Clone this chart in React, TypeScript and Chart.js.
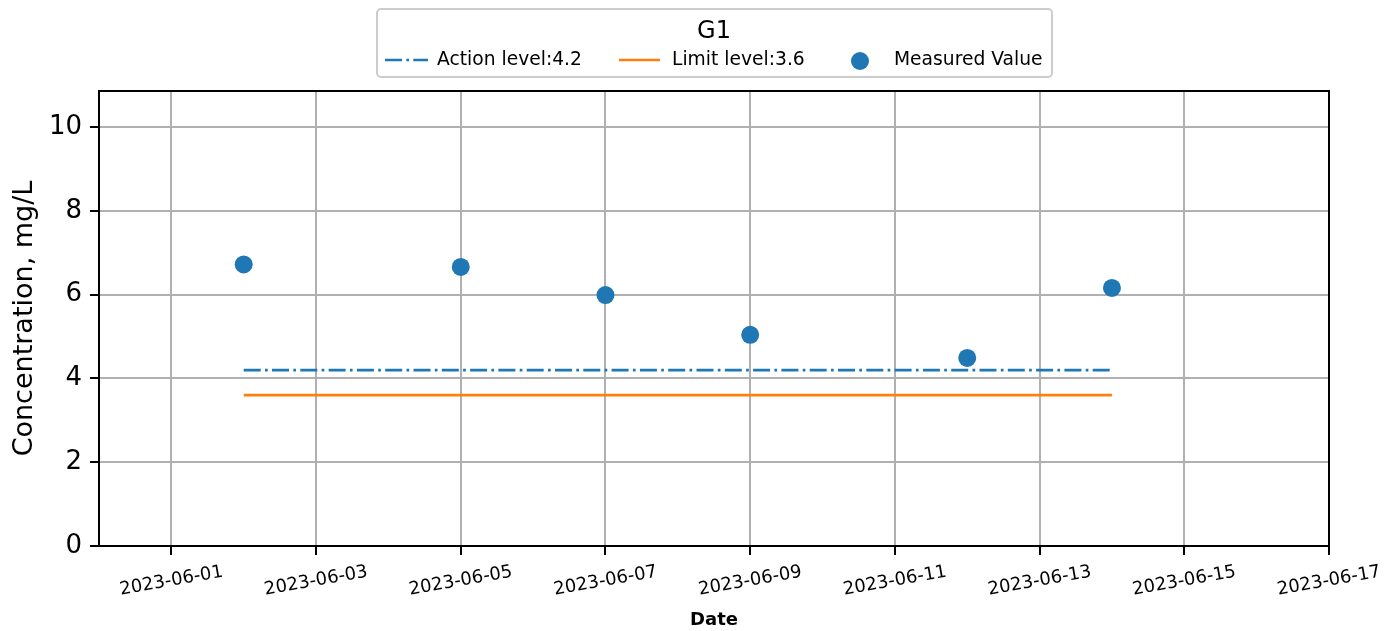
import React, { useEffect, useRef } from "react";
import { Chart, registerables } from "chart.js";

Chart.register(...registerables);

const chartTitle = "G1";
const measuredDates = ["2023-06-02", "2023-06-05", "2023-06-07", "2023-06-09", "2023-06-12", "2023-06-14"];
const measuredValues = [6.72, 6.66, 5.99, 5.04, 4.49, 6.16];
const actionLevel = 4.2;
const limitLevel = 3.6;
const levelStart = "2023-06-02";
const levelEnd = "2023-06-14";
const xTickLabels = [
  "2023-06-01", "2023-06-03", "2023-06-05", "2023-06-07", "2023-06-09",
  "2023-06-11", "2023-06-13", "2023-06-15", "2023-06-17",
];
const xMinDate = "2023-05-31";
const xMaxDate = "2023-06-17";
const yTicks = [0, 2, 4, 6, 8, 10];
const yMax = 10.86;
const seriesNames = ["Action level:4.2", "Limit level:3.6", "Measured Value"];

const BLUE = "#1f77b4";
const ORANGE = "#ff7f0e";
const FONT = "'DejaVu Sans', sans-serif";
const DASH = [17, 4.3, 2.7, 4.3];

const toDay = (s: string) => {
  const [y, m, d] = s.split("-").map(Number);
  return Date.UTC(y, m - 1, d) / 86400000;
};

export default function App() {
  const ref = useRef<HTMLCanvasElement | null>(null);

  useEffect(() => {
    if (!ref.current) return;

    const overlay = {
      id: "overlay",
      afterDraw(chart: any) {
        const ctx = chart.ctx;
        const area = chart.chartArea;
        const xs = chart.scales.x;
        ctx.save();
        // full frame
        ctx.strokeStyle = "#000";
        ctx.lineWidth = 2;
        ctx.strokeRect(area.left, area.top, area.right - area.left, area.bottom - area.top);

        // x tick labels rotated
        ctx.fillStyle = "#000";
        ctx.font = `18px ${FONT}`;
        ctx.textAlign = "center";
        ctx.textBaseline = "middle";
        xTickLabels.forEach((lab) => {
          const px = xs.getPixelForValue(toDay(lab));
          ctx.save();
          ctx.translate(px, 581);
          ctx.rotate((-10 * Math.PI) / 180);
          ctx.fillText(lab, 0, 0);
          ctx.restore();
        });

        // legend box
        const bx = 377, by = 9, bw = 675, bh = 68;
        ctx.beginPath();
        (ctx as any).roundRect(bx, by, bw, bh, 4);
        ctx.fillStyle = "rgba(255,255,255,0.8)";
        ctx.fill();
        ctx.strokeStyle = "#cccccc";
        ctx.lineWidth = 2;
        ctx.stroke();

        ctx.fillStyle = "#000";
        ctx.font = `24px ${FONT}`;
        ctx.textAlign = "center";
        ctx.textBaseline = "middle";
        ctx.fillText(chartTitle, 714, 32);

        const ly = 60;
        ctx.lineWidth = 2.7;
        ctx.strokeStyle = BLUE;
        ctx.setLineDash(DASH);
        ctx.beginPath();
        ctx.moveTo(385, ly);
        ctx.lineTo(428, ly);
        ctx.stroke();
        ctx.setLineDash([]);
        ctx.strokeStyle = ORANGE;
        ctx.beginPath();
        ctx.moveTo(619, ly);
        ctx.lineTo(660, ly);
        ctx.stroke();
        ctx.fillStyle = BLUE;
        ctx.beginPath();
        ctx.arc(860, ly + 1, 9, 0, Math.PI * 2);
        ctx.fill();

        ctx.fillStyle = "#000";
        ctx.font = `18.7px ${FONT}`;
        ctx.textAlign = "left";
        ctx.fillText(seriesNames[0], 437, ly);
        ctx.fillText(seriesNames[1], 672, ly);
        ctx.fillText(seriesNames[2], 894, ly);
        ctx.restore();
      },
    };

    const chart = new Chart(ref.current, {
      type: "scatter",
      data: {
        datasets: [
          {
            type: "line",
            label: seriesNames[0],
            data: [
              { x: toDay(levelStart), y: actionLevel },
              { x: toDay(levelEnd), y: actionLevel },
            ],
            borderColor: BLUE,
            borderWidth: 2.7,
            borderDash: DASH,
            pointRadius: 0,
            fill: false,
          } as any,
          {
            type: "line",
            label: seriesNames[1],
            data: [
              { x: toDay(levelStart), y: limitLevel },
              { x: toDay(levelEnd), y: limitLevel },
            ],
            borderColor: ORANGE,
            borderWidth: 2.7,
            pointRadius: 0,
            fill: false,
          } as any,
          {
            type: "scatter",
            label: seriesNames[2],
            data: measuredDates.map((d, i) => ({ x: toDay(d), y: measuredValues[i] })),
            backgroundColor: BLUE,
            borderWidth: 0,
            pointRadius: 9,
            pointHoverRadius: 9,
          } as any,
        ],
      },
      options: {
        animation: false,
        responsive: true,
        maintainAspectRatio: false,
        layout: { padding: { top: 91, right: 71, left: 0, bottom: 0 } },
        plugins: { legend: { display: false }, tooltip: { enabled: false } },
        scales: {
          x: {
            type: "linear",
            min: toDay(xMinDate),
            max: toDay(xMaxDate),
            afterBuildTicks: (s: any) => {
              s.ticks = xTickLabels.map((l) => ({ value: toDay(l) }));
            },
            afterFit: (s: any) => {
              s.height = 85;
            },
            ticks: { display: false },
            grid: {
              color: "#b0b0b0",
              lineWidth: 2,
              drawTicks: true,
              tickLength: 9,
              tickColor: "#000",
              tickWidth: 2,
            },
            border: { display: true, color: "#000", width: 2 },
            title: {
              display: true,
              text: "Date",
              color: "#000",
              font: { family: FONT, size: 18, weight: "bold" },
              padding: { top: 0, bottom: 0 },
            },
          },
          y: {
            type: "linear",
            min: 0,
            max: yMax,
            afterBuildTicks: (s: any) => {
              s.ticks = yTicks.map((v) => ({ value: v }));
            },
            afterFit: (s: any) => {
              s.width = 99;
            },
            ticks: {
              color: "#000",
              font: { family: FONT, size: 26 },
              padding: 8,
            },
            grid: {
              color: "#b0b0b0",
              lineWidth: 2,
              drawTicks: true,
              tickLength: 9,
              tickColor: "#000",
              tickWidth: 2,
            },
            border: { display: true, color: "#000", width: 2 },
            title: {
              display: true,
              text: "Concentration, mg/L",
              color: "#000",
              font: { family: FONT, size: 27 },
              padding: { top: 9, bottom: 0 },
            },
          },
        },
      },
      plugins: [overlay],
    });

    return () => chart.destroy();
  }, []);

  return (
    <div style={{ position: "fixed", left: 0, top: 0, width: 1400, height: 631, background: "#fff" }}>
      <canvas ref={ref} />
    </div>
  );
}
